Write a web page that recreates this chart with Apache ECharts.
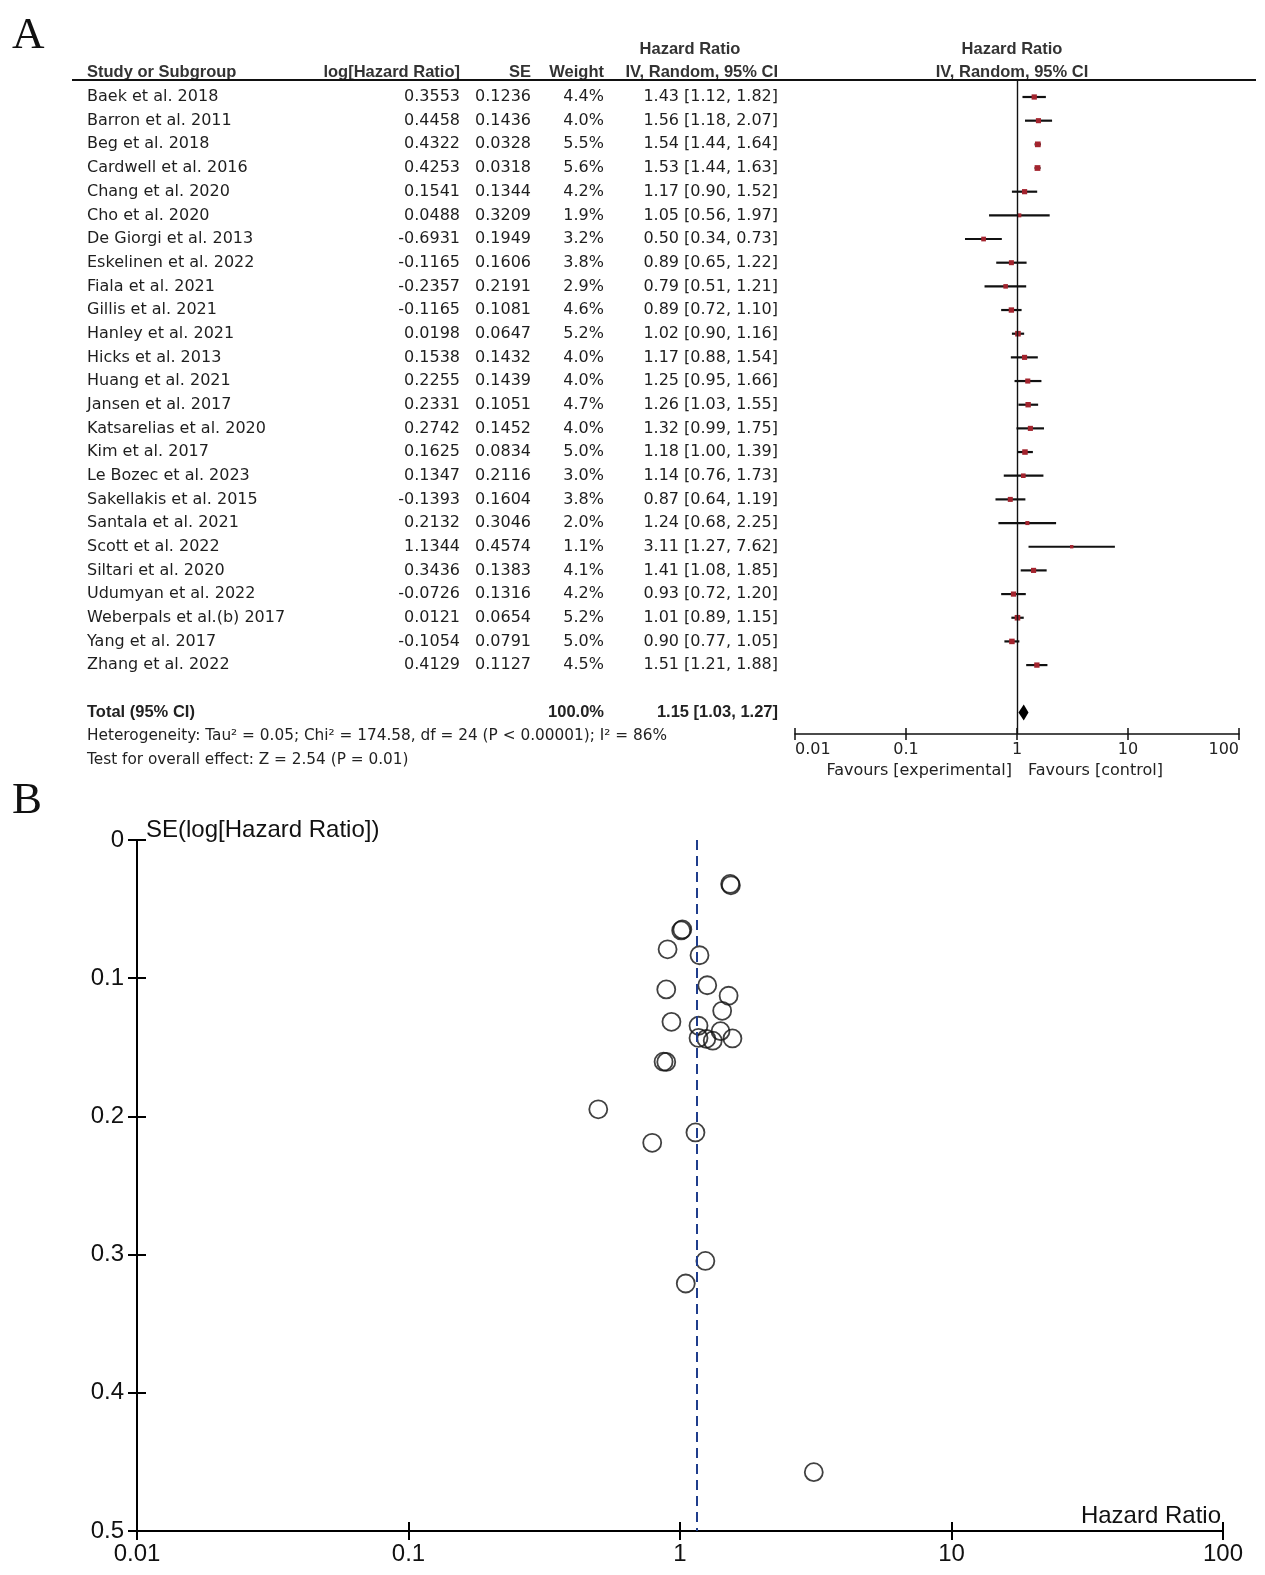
<!DOCTYPE html>
<html><head><meta charset="utf-8">
<script src="https://cdn.jsdelivr.net/npm/echarts@6/dist/echarts.min.js"></script>
<style>html,body{margin:0;padding:0;background:#fff}#c{width:1265px;height:1575px}</style>
</head><body><div id="c"></div>
<script>
// ---------------- DATA ----------------
const studies = ['Baek et al. 2018','Barron et al. 2011','Beg et al. 2018','Cardwell et al. 2016','Chang et al. 2020','Cho et al. 2020','De Giorgi et al. 2013','Eskelinen et al. 2022','Fiala et al. 2021','Gillis et al. 2021','Hanley et al. 2021','Hicks et al. 2013','Huang et al. 2021','Jansen et al. 2017','Katsarelias et al. 2020','Kim et al. 2017','Le Bozec et al. 2023','Sakellakis et al. 2015','Santala et al. 2021','Scott et al. 2022','Siltari et al. 2020','Udumyan et al. 2022','Weberpals et al.(b) 2017','Yang et al. 2017','Zhang et al. 2022'];
const logHR = [0.3553,0.4458,0.4322,0.4253,0.1541,0.0488,-0.6931,-0.1165,-0.2357,-0.1165,0.0198,0.1538,0.2255,0.2331,0.2742,0.1625,0.1347,-0.1393,0.2132,1.1344,0.3436,-0.0726,0.0121,-0.1054,0.4129];
const se = [0.1236,0.1436,0.0328,0.0318,0.1344,0.3209,0.1949,0.1606,0.2191,0.1081,0.0647,0.1432,0.1439,0.1051,0.1452,0.0834,0.2116,0.1604,0.3046,0.4574,0.1383,0.1316,0.0654,0.0791,0.1127];
const weight = [4.4,4.0,5.5,5.6,4.2,1.9,3.2,3.8,2.9,4.6,5.2,4.0,4.0,4.7,4.0,5.0,3.0,3.8,2.0,1.1,4.1,4.2,5.2,5.0,4.5];
const hr = [1.43,1.56,1.54,1.53,1.17,1.05,0.50,0.89,0.79,0.89,1.02,1.17,1.25,1.26,1.32,1.18,1.14,0.87,1.24,3.11,1.41,0.93,1.01,0.90,1.51];
const ciLow = [1.12,1.18,1.44,1.44,0.90,0.56,0.34,0.65,0.51,0.72,0.90,0.88,0.95,1.03,0.99,1.00,0.76,0.64,0.68,1.27,1.08,0.72,0.89,0.77,1.21];
const ciHigh = [1.82,2.07,1.64,1.63,1.52,1.97,0.73,1.22,1.21,1.10,1.16,1.54,1.66,1.55,1.75,1.39,1.73,1.19,2.25,7.62,1.85,1.20,1.15,1.05,1.88];
const totalLabel = 'Total (95% CI)';
const totalWeight = 100.0;
const totalHR = 1.15, totalLow = 1.03, totalHigh = 1.27;
const nullHR = 1;
const heterogeneityText = 'Heterogeneity: Tau\u00B2 = 0.05; Chi\u00B2 = 174.58, df = 24 (P < 0.00001); I\u00B2 = 86%';
const overallText = 'Test for overall effect: Z = 2.54 (P = 0.01)';
const favoursLeft = 'Favours [experimental]';
const favoursRight = 'Favours [control]';
const funnelYTitle = 'SE(log[Hazard Ratio])';
const funnelXTitle = 'Hazard Ratio';

// ---------------- LAYOUT ----------------
const W = 1265, H = 1575;
const ROW0 = 97, ROWH = 23.67;
const N = studies.length;
const NROWS = N + 2;            // blank row + total row
const TOTAL_ROW = N + 1;
const RULE_Y = 80, FOREST_AXIS_Y = 734;
const FOREST_L = 795, FOREST_R = 1239;
const FUN_L = 137, FUN_R = 1223, FUN_T = 840, FUN_B = 1531;
const TXT = '"DejaVu Sans", sans-serif';
const ARIAL = '"Liberation Sans", Arial, sans-serif';
const boxSize = w => 1.5 + 1.8 * Math.sqrt(w);

const ctx = document.createElement('canvas').getContext('2d');
function tw(text, font) { ctx.font = font; return ctx.measureText(text).width; }

// table column strings built from data arrays
const fmtCI = (v, l, h) => v.toFixed(2) + ' [' + l.toFixed(2) + ', ' + h.toFixed(2) + ']';
const colStudy = studies.concat(['', totalLabel]);
const colLog = logHR.map(v => v.toFixed(4)).concat(['', '']);
const colSE = se.map(v => v.toFixed(4)).concat(['', '']);
const colW = weight.map(v => v.toFixed(1) + '%').concat(['', totalWeight.toFixed(1) + '%']);
const colCI = hr.map((v, i) => fmtCI(v, ciLow[i], ciHigh[i])).concat(['', fmtCI(totalHR, totalLow, totalHigh)]);

const columns = [
  {texts: colStudy, x: 87, align: 'left'},
  {texts: colLog, x: 460, align: 'right'},
  {texts: colSE, x: 531, align: 'right'},
  {texts: colW, x: 604, align: 'right'},
  {texts: colCI, x: 778, align: 'right'}
];

const grids = [], xAxes = [], yAxes = [], series = [];
const rowIdx = Array.from({length: NROWS}, (_, i) => String(i));

columns.forEach((col, ci) => {
  grids.push({left: col.x, width: 2, top: ROW0 - ROWH / 2, height: NROWS * ROWH});
  xAxes.push({type: 'value', gridIndex: ci, show: false});
  yAxes.push({
    type: 'category', gridIndex: ci, data: rowIdx, inverse: true,
    axisLine: {show: false}, axisTick: {show: false}, splitLine: {show: false},
    axisLabel: {
      interval: 0, margin: 0, align: col.align,
      fontFamily: TXT, fontSize: 16, color: '#1e1e1e',
      formatter: (v, i) => {
        const t = col.texts[i];
        if (!t) return '';
        return i === TOTAL_ROW ? '{b|' + t + '}' : t;
      },
      rich: {b: {fontFamily: ARIAL, fontWeight: 'bold', fontSize: 16.5, color: '#222'}}
    }
  });
});

// forest grid
const FG = grids.length;
grids.push({left: FOREST_L, right: W - FOREST_R, top: RULE_Y, bottom: H - FOREST_AXIS_Y});
const fxMain = xAxes.length;
xAxes.push({
  type: 'log', logBase: 10, min: 0.01, max: 100, gridIndex: FG, position: 'bottom',
  axisLine: {onZero: false, lineStyle: {color: '#111', width: 1.5}},
  axisTick: {length: 6, lineStyle: {color: '#111', width: 1.5}},
  splitLine: {show: false}, minorTick: {show: false},
  axisLabel: {margin: 8, fontFamily: TXT, fontSize: 16, color: '#222',
    showMinLabel: true, showMaxLabel: true, alignMinLabel: 'left', alignMaxLabel: 'right'}
});
xAxes.push({
  type: 'log', logBase: 10, min: 0.01, max: 100, gridIndex: FG, position: 'bottom',
  axisLine: {show: false, onZero: false}, axisLabel: {show: false}, splitLine: {show: false},
  axisTick: {inside: true, length: 6, lineStyle: {color: '#111', width: 1.5}}
});
const fy = yAxes.length;
yAxes.push({type: 'value', gridIndex: FG, inverse: true, show: false,
  min: -(ROW0 - RULE_Y) / ROWH, max: (FOREST_AXIS_Y - ROW0) / ROWH});

const forestData = hr.map((v, i) => [ciLow[i], ciHigh[i], v, i, weight[i]]);
series.push({
  type: 'custom', xAxisIndex: fxMain, yAxisIndex: fy, silent: true,
  encode: {x: [0, 1, 2], y: 3},
  data: forestData,
  renderItem: (params, api) => {
    const r = api.value(3);
    const pl = api.coord([api.value(0), r]);
    const ph = api.coord([api.value(1), r]);
    const pc = api.coord([api.value(2), r]);
    const s = boxSize(api.value(4));
    return {type: 'group', children: [
      {type: 'line', shape: {x1: pl[0], y1: pl[1], x2: ph[0], y2: ph[1]}, style: {stroke: '#111', lineWidth: 2.2}},
      {type: 'rect', shape: {x: pc[0] - s / 2, y: pc[1] - s / 2, width: s, height: s}, style: {fill: '#a3242e'}}
    ]};
  },
  markLine: {silent: true, symbol: ['none', 'none'], label: {show: false},
    lineStyle: {color: '#111', width: 1.4, type: 'solid'}, data: [{xAxis: nullHR}]}
});
series.push({
  type: 'custom', xAxisIndex: fxMain, yAxisIndex: fy, silent: true,
  encode: {x: [0, 1, 2], y: 3},
  data: [[totalLow, totalHigh, totalHR, TOTAL_ROW]],
  renderItem: (params, api) => {
    const r = api.value(3);
    const pl = api.coord([api.value(0), r]);
    const ph = api.coord([api.value(1), r]);
    const pc = api.coord([api.value(2), r]);
    const hh = 8;
    return {type: 'polygon', shape: {points: [[pl[0], pl[1]], [pc[0], pc[1] - hh], [ph[0], ph[1]], [pc[0], pc[1] + hh]]},
      style: {fill: '#000'}};
  }
});

// funnel grid
const UG = grids.length;
grids.push({left: FUN_L, right: W - FUN_R, top: FUN_T, bottom: H - FUN_B});
const uxMain = xAxes.length;
const funLabel = {fontFamily: ARIAL, fontSize: 24, color: '#111'};
xAxes.push({
  type: 'log', logBase: 10, min: 0.01, max: 100, gridIndex: UG, position: 'bottom',
  axisLine: {onZero: false, lineStyle: {color: '#000', width: 2}},
  axisTick: {length: 9, lineStyle: {color: '#000', width: 2}},
  splitLine: {show: false}, minorTick: {show: false},
  axisLabel: Object.assign({margin: 11, showMinLabel: true, showMaxLabel: true}, funLabel)
});
xAxes.push({
  type: 'log', logBase: 10, min: 0.01, max: 100, gridIndex: UG, position: 'bottom',
  axisLine: {show: false, onZero: false}, axisLabel: {show: false}, splitLine: {show: false},
  axisTick: {inside: true, length: 9, lineStyle: {color: '#000', width: 2}}
});
const uyMain = yAxes.length;
yAxes.push({
  type: 'value', gridIndex: UG, inverse: true, min: 0, max: 0.5, interval: 0.1, position: 'left',
  axisLine: {onZero: false, lineStyle: {color: '#000', width: 2}},
  axisTick: {length: 9, lineStyle: {color: '#000', width: 2}},
  splitLine: {show: false},
  axisLabel: Object.assign({margin: 13}, funLabel)
});
yAxes.push({
  type: 'value', gridIndex: UG, inverse: true, min: 0, max: 0.5, interval: 0.1, position: 'left',
  axisLine: {show: false, onZero: false}, axisLabel: {show: false}, splitLine: {show: false},
  axisTick: {inside: true, length: 9, lineStyle: {color: '#000', width: 2}}
});

series.push({
  type: 'scatter', xAxisIndex: uxMain, yAxisIndex: uyMain, silent: true,
  symbol: 'circle', symbolSize: 18,
  itemStyle: {color: 'rgba(0,0,0,0)', borderColor: '#111', borderWidth: 1.8},
  data: hr.map((v, i) => [v, se[i]]),
  markLine: {silent: true, symbol: ['none', 'none'], label: {show: false},
    lineStyle: {color: '#1f3d8c', width: 2, type: [10, 6]}, data: [{xAxis: totalHR}]}
});

// ---------------- static texts ----------------
const HB = 'bold 16.5px ' + ARIAL;
const graphics = [];
function txt(text, x, y, align, font, fill) {
  graphics.push({type: 'text', x: x, y: y, silent: true,
    style: {text: text, font: font, fill: fill || '#222', align: align, verticalAlign: 'middle'}});
}
function hdr(text, x, y, align, underline) {
  txt(text, x, y, align, HB, '#333');
  if (underline) {
    const w = tw(text, HB);
    const x0 = align === 'left' ? x : align === 'right' ? x - w : x - w / 2;
    graphics.push({type: 'rect', silent: true, shape: {x: x0, y: y + 7, width: w, height: 1.3}, style: {fill: '#333'}});
  }
}
// footnote font size fitted to the reference text widths
const fnSize = 16 * ((583 / tw(heterogeneityText, '16px ' + TXT)) + (320 / tw(overallText, '16px ' + TXT))) / 2;
const FN = fnSize.toFixed(2) + 'px ' + TXT;

txt('A', 12, 36, 'left', '45px "Liberation Serif", serif', '#111');
txt('B', 12, 801, 'left', '45px "Liberation Serif", serif', '#111');
hdr('Hazard Ratio', 690, 49, 'center', false);
hdr('Hazard Ratio', 1012, 49, 'center', false);
hdr('Study or Subgroup', 87, 72, 'left', true);
hdr('log[Hazard Ratio]', 460, 72, 'right', true);
hdr('SE', 531, 72, 'right', true);
hdr('Weight', 604, 72, 'right', true);
hdr('IV, Random, 95% CI', 778, 72, 'right', true);
hdr('IV, Random, 95% CI', 1012, 72, 'center', true);
graphics.push({type: 'line', silent: true, shape: {x1: 72, y1: RULE_Y, x2: 1256, y2: RULE_Y}, style: {stroke: '#111', lineWidth: 2}});
txt(heterogeneityText, 87, ROW0 + (TOTAL_ROW + 1) * ROWH, 'left', FN, '#222');
txt(overallText, 87, ROW0 + (TOTAL_ROW + 2) * ROWH, 'left', FN, '#222');
txt(favoursLeft, 1012, 771, 'right', '16px ' + TXT, '#222');
txt(favoursRight, 1028, 771, 'left', '16px ' + TXT, '#222');
txt(funnelYTitle, FUN_L + 9, FUN_T - 10, 'left', '24px ' + ARIAL, '#111');
txt(funnelXTitle, FUN_R - 2, FUN_B - 15, 'right', '24px ' + ARIAL, '#111');

const chart = echarts.init(document.getElementById('c'), null, {renderer: 'canvas'});
chart.setOption({
  backgroundColor: '#fff',
  animation: false,
  grid: grids, xAxis: xAxes, yAxis: yAxes, series: series,
  graphic: graphics
});
</script></body></html>
